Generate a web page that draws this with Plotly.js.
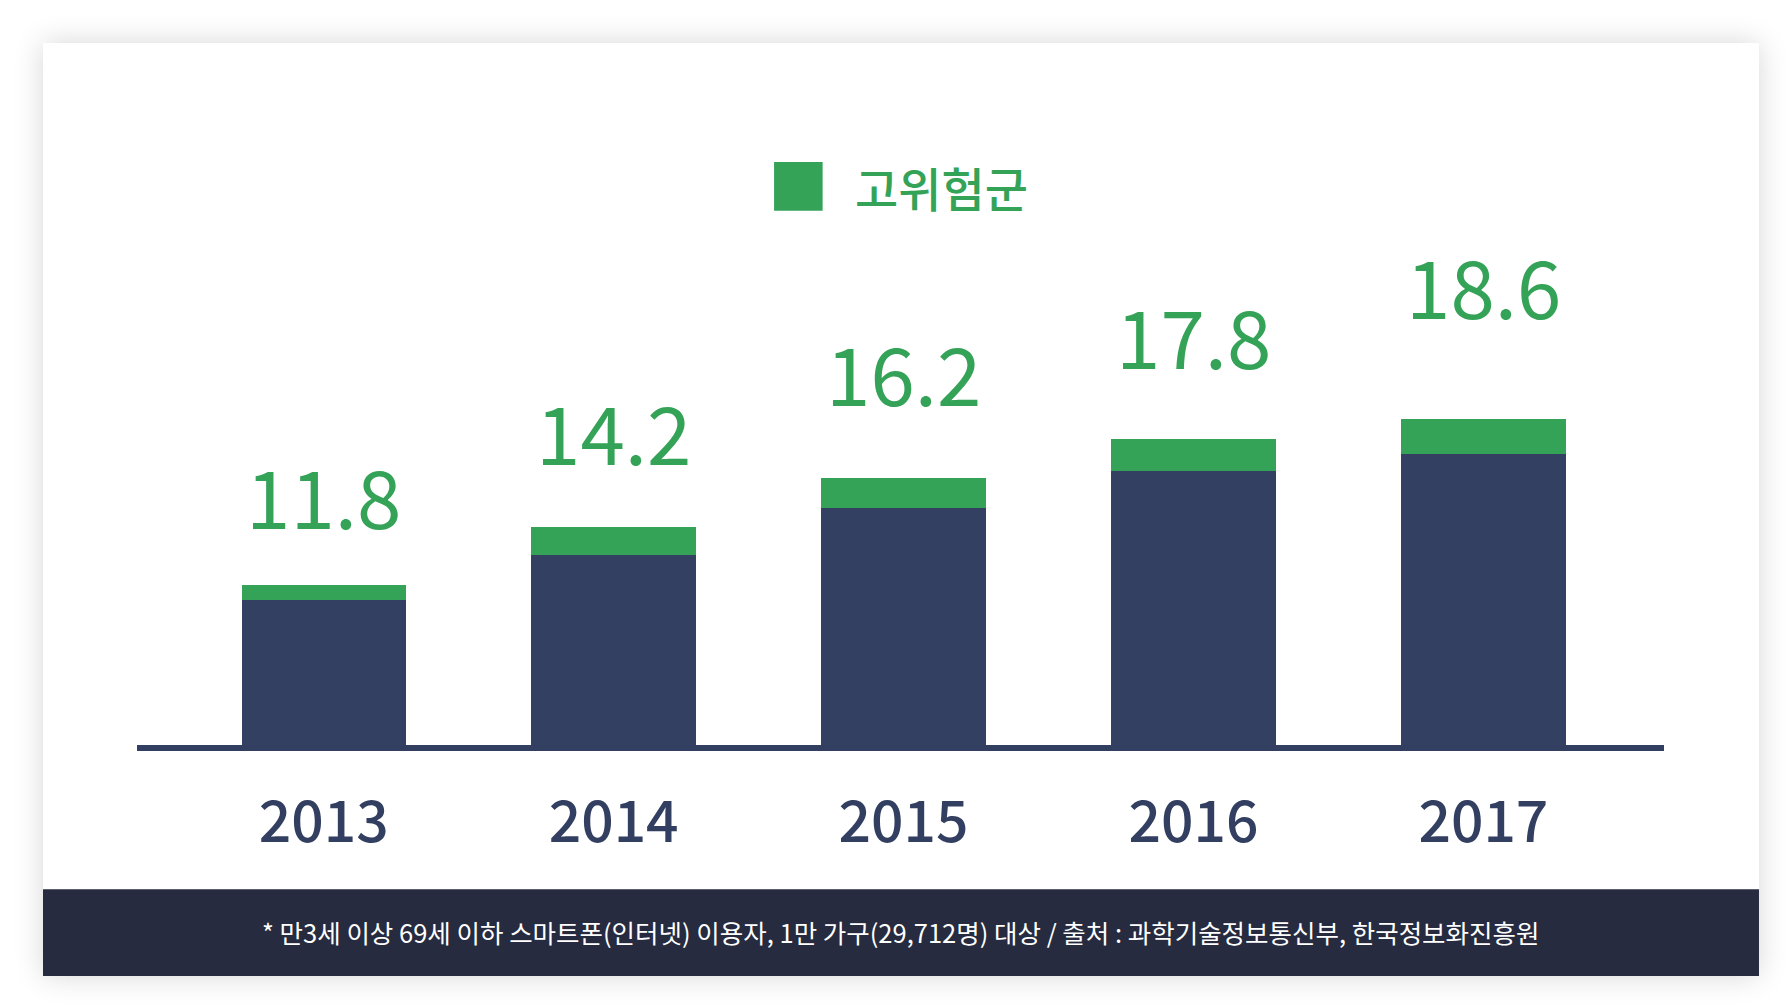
<!DOCTYPE html>
<html>
<head>
<meta charset="utf-8">
<script src="https://cdn.plot.ly/plotly-3.0.1.min.js"></script>
<style>
  html, body { margin: 0; padding: 0; background: #ffffff; }
  body { width: 1790px; height: 1008px; position: relative; overflow: hidden; }
  #card {
    position: absolute; left: 43px; top: 43px;
    width: 1716px; height: 933px;
    background: #ffffff;
    box-shadow: 0 0 28px rgba(0, 0, 0, 0.16);
  }
</style>
</head>
<body>
<div id="card"><div id="chart"></div></div>
<script>
// 스마트폰 과의존위험군 비율 (%)
var years = ['2013', '2014', '2015', '2016', '2017']
var riskRate = [11.8, 14.2, 16.2, 17.8, 18.6]
// green cap in the chart's own units
var highRisk = [0.6, 1.15, 1.25, 1.3, 1.4]
var seriesName = '고위험군'
var note = '* 만3세 이상 69세 이하 스마트폰(인터넷) 이용자, 1만 가구(29,712명) 대상 / 출처 : 과학기술정보통신부, 한국정보화진흥원'

// label lift above each bar top, in px (layout only)
var labelLift = [31, 37, 47, 45, 75]

var green = '#34a357'
var navy = '#334062'
var font = 'Noto Sans CJK KR, Noto Sans, sans-serif'

function chart() {
  var rest = riskRate.map(function (v, i) { return +(v - highRisk[i]).toFixed(2) })

  var data = [{
    x: years,
    y: rest,
    type: 'bar',
    marker: { color: navy, line: { width: 0 } },
    showlegend: false,
    hoverinfo: 'skip'
  }, {
    x: years,
    y: highRisk,
    name: seriesName,
    type: 'bar',
    marker: { color: green, line: { width: 0 } },
    showlegend: false,
    hoverinfo: 'skip'
  }]

  // category index as x, so '2013' is not read as a number
  var annotations = years.map(function (yr, i) {
    return {
      x: i, y: riskRate[i], xref: 'x', yref: 'y',
      text: riskRate[i].toFixed(1),
      showarrow: false, yanchor: 'bottom', yshift: labelLift[i],
      font: { family: font, size: 80, color: green }
    }
  })

  annotations.push({
    x: 0.4687, y: 0.9277, xref: 'paper', yref: 'paper',
    xanchor: 'left', yanchor: 'middle',
    text: seriesName, showarrow: false,
    font: { family: font, size: 47, color: green, weight: 500 }
  })

  annotations.push({
    x: 0.5, y: -0.31, xref: 'paper', yref: 'paper',
    xanchor: 'center', yanchor: 'middle',
    text: note, showarrow: false,
    font: { family: font, size: 25.5, color: '#ffffff' }
  })

  var layout = {
    width: 1716,
    height: 933,
    margin: { l: 94, r: 95, t: 100, b: 231 },
    paper_bgcolor: 'rgba(0,0,0,0)',
    plot_bgcolor: 'rgba(0,0,0,0)',
    barmode: 'stack',
    bargap: 0.433,
    xaxis: {
      type: 'category',
      range: [-0.644, 4.623],
      showline: true,
      linecolor: '#333f60',
      linewidth: 6,
      ticks: '',
      showgrid: false,
      zeroline: false,
      ticklabelstandoff: 23,
      tickfont: { family: font, size: 57, color: '#333f60', weight: 500 }
    },
    yaxis: {
      visible: false,
      range: [5.26, 29.92],
      showgrid: false,
      zeroline: false
    },
    shapes: [{
      type: 'rect', xref: 'paper', yref: 'paper',
      x0: 0.4172, x1: 0.4490, y0: 0.8875, y1: 0.9684,
      fillcolor: green, line: { width: 0 }
    }, {
      type: 'rect', xref: 'paper', yref: 'paper',
      x0: -0.0616, x1: 1.0622, y0: -0.3837, y1: -0.2397,
      fillcolor: '#262b3f', line: { width: 0 }, layer: 'below'
    }],
    annotations: annotations
  }

  Plotly.newPlot('chart', data, layout, { displayModeBar: false, staticPlot: true })
}

chart()
</script>
</body>
</html>
